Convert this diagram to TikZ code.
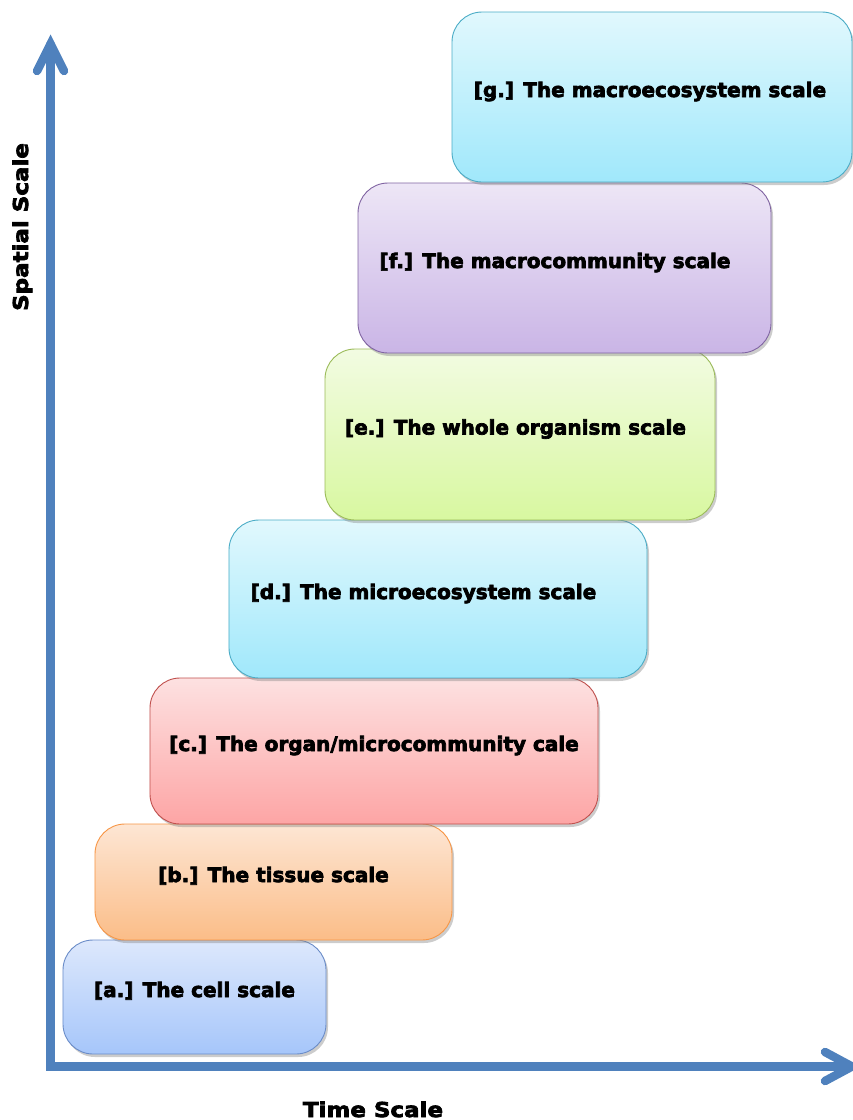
\documentclass[tikz,border=0pt]{standalone}
\usepackage{fontspec}
\setmainfont{DejaVu Sans}
\newfontfamily\boxfont{DejaVu Sans Bold}[FakeBold=3.5]
\newfontfamily\axisfont{DejaVu Sans Bold}[FakeStretch=1.12,FakeBold=3.5]
\usetikzlibrary{shadows}

\definecolor{axisblue}{HTML}{4F81BD}
\definecolor{cellline}{HTML}{6A8CC8}\definecolor{celltop}{HTML}{DDE8FC}\definecolor{cellbot}{HTML}{A6C6FA}
\definecolor{tissline}{HTML}{F79646}\definecolor{tisstop}{HTML}{FDE6D4}\definecolor{tissbot}{HTML}{FBBD88}
\definecolor{organline}{HTML}{C0504D}\definecolor{organtop}{HTML}{FDE1E1}\definecolor{organbot}{HTML}{FDA5A5}
\definecolor{ecoline}{HTML}{4BACC6}\definecolor{ecotop}{HTML}{E1F8FD}\definecolor{ecobot}{HTML}{A0E8FB}
\definecolor{orgline}{HTML}{9BBB59}\definecolor{orgtop}{HTML}{F2FBE2}\definecolor{orgbot}{HTML}{D8F8A0}
\definecolor{commline}{HTML}{8064A2}\definecolor{commtop}{HTML}{EDE6F6}\definecolor{commbot}{HTML}{CAB5E6}

\begin{document}
\begin{tikzpicture}[x=1bp,y=-1bp,
  scalebox/.style={line width=0.9bp,rounded corners=30bp,inner sep=0pt,
    drop shadow={shadow xshift=2bp,shadow yshift=-3bp,opacity=0.4}},
  scaletext/.style={anchor=base,font=\fontsize{20bp}{24bp}\selectfont\boxfont},
  axisline/.style={draw=axisblue,line width=8.5bp,line join=miter,line cap=round},
  axislabel/.style={anchor=base,font=\fontsize{20.5bp}{24bp}\selectfont\axisfont}]
\useasboundingbox (0,0) rectangle (853,1120);

% Coloring .. (lowest box first)
\node[scalebox,draw=cellline,top color=celltop,bottom color=cellbot,minimum width=263bp,minimum height=114bp] (cell) at (194.5,997) {};
\node[scalebox,draw=tissline,top color=tisstop,bottom color=tissbot,minimum width=357bp,minimum height=116bp] (tissue) at (273.5,882) {};
\node[scalebox,draw=organline,top color=organtop,bottom color=organbot,minimum width=448bp,minimum height=146bp] (organ) at (374,751) {};
\node[scalebox,draw=ecoline,top color=ecotop,bottom color=ecobot,minimum width=418bp,minimum height=158bp] (microeco) at (438,599) {};
\node[scalebox,draw=orgline,top color=orgtop,bottom color=orgbot,minimum width=390bp,minimum height=171bp] (organism) at (520,434.5) {};
\node[scalebox,draw=commline,top color=commtop,bottom color=commbot,minimum width=413bp,minimum height=170bp] (macrocomm) at (564.5,268) {};
\node[scalebox,draw=ecoline,top color=ecotop,bottom color=ecobot,minimum width=400bp,minimum height=170bp] (macroeco) at (652,97) {};

% Writing
\node[scaletext] (celltext) at (cell.center) {[a.] The cell scale};
\node[scaletext] (tissuetext) at (tissue.center) {[b.] The tissue scale};
\node[scaletext] (organtext) at (organ.center) {[c.] The organ/microcommunity cale};
\node[scaletext,xshift=-14.5bp] (microecotext) at (microeco.center) {[d.] The microecosystem scale};
\node[scaletext,xshift=-4.5bp] (organismtext) at (organism.center) {[e.] The whole organism scale};
\node[scaletext,xshift=-9.5bp] (macrocommtext) at (macrocomm.center) {[f.] The macrocommunity scale};
\node[scaletext,xshift=-2bp] (macroecotext) at (macroeco.center) {[g.] The macroecosystem scale};
\node[axislabel] (xlabel) at (373,1117) {Time Scale}; % Axes
\node[axislabel,rotate=90] (ylabel) at (28,227) {Spatial Scale};

% creating axis
\coordinate (ytip) at (50.5,44);
\coordinate (origin) at (50.5,1066.5);
\coordinate (xtip) at (852,1066.5);
\draw[axisline] (ytip) -- (origin) -- (xtip);
\draw[axisline] ([shift={(-13.5,27)}]ytip) -- (ytip) -- ([shift={(13.5,27)}]ytip); % Vertical
\draw[axisline] ([shift={(-27,-14.5)}]xtip) -- (xtip) -- ([shift={(-27,14.5)}]xtip); % Horizontal
\end{tikzpicture}
\end{document}
